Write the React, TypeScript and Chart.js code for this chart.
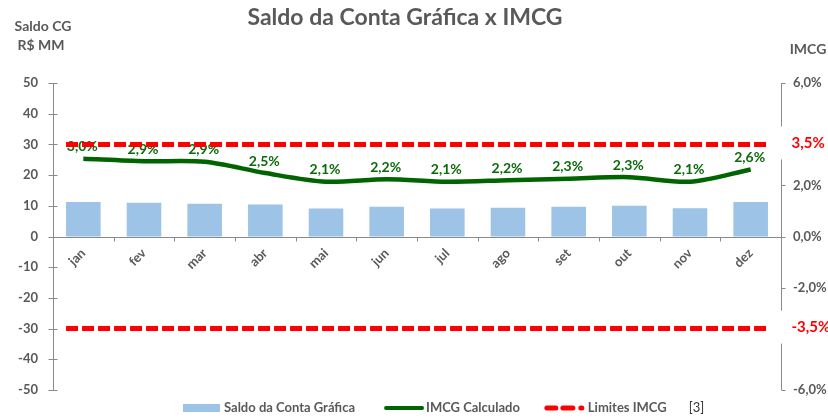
import { useEffect, useRef } from 'react';
import { Chart, registerables } from 'chart.js';

Chart.register(...registerables);

const months = ['jan', 'fev', 'mar', 'abr', 'mai', 'jun', 'jul', 'ago', 'set', 'out', 'nov', 'dez'];
const saldoContaGrafica = [11.2, 11.0, 10.7, 10.4, 9.1, 9.7, 9.1, 9.4, 9.7, 10.0, 9.2, 11.2];
const imcgCalculado = [3.04, 2.94, 2.92, 2.48, 2.14, 2.24, 2.14, 2.2, 2.26, 2.32, 2.14, 2.62];
// limits as labelled (IMCG %) and where the limit line sits on the primary (R$ MM) axis
const limitesIMCG = [3.5, -3.5];
const limitesEixoSaldo = [30, -30];
const leftAxisRange = [-50, 50];
const rightAxisRange = [-6, 6];

const FONT = 'Lato, "Open Sans", sans-serif';
const GRAY = '#595959';
const AXIS = '#8a8a8a';
const BAR = '#9DC3E6';
const GREEN = '#006400';
const RED = '#FF0000';

const fmtPct = (v: number) => v.toFixed(1).replace('.', ',') + '%';

export default function App() {
  const ref = useRef<HTMLCanvasElement>(null);

  useEffect(() => {
    if (!ref.current) return;

    const custom = {
      id: 'custom',
      afterDatasetsDraw(chart: any) {
        const ctx = chart.ctx;
        const ys = chart.scales.y;
        // data labels
        const meta = chart.getDatasetMeta(1);
        ctx.save();
        ctx.font = `bold 14px ${FONT}`;
        ctx.fillStyle = '#0B6B0B';
        ctx.textAlign = 'center';
        ctx.textBaseline = 'middle';
        meta.data.forEach((pt: any, i: number) => {
          ctx.fillText(fmtPct(imcgCalculado[i]), pt.x - 1, pt.y - 12);
        });
        ctx.restore();
        // limit lines
        const barMeta = chart.getDatasetMeta(0);
        const b0: any = barMeta.data[0];
        const bN: any = barMeta.data[barMeta.data.length - 1];
        const xStart = b0.x - b0.width / 2;
        const xEnd = bN.x + bN.width / 2;
        ctx.save();
        ctx.strokeStyle = RED;
        ctx.lineWidth = 5;
        ctx.setLineDash([12, 4]);
        limitesEixoSaldo.forEach((v) => {
          const yy = ys.getPixelForValue(v);
          ctx.beginPath();
          ctx.moveTo(xStart, yy);
          ctx.lineTo(xEnd, yy);
          ctx.stroke();
        });
        ctx.restore();
      },
      afterDraw(chart: any) {
        const ctx = chart.ctx;
        const { left, right, top, bottom } = chart.chartArea;
        const ys = chart.scales.y;
        const y1 = chart.scales.y1;
        ctx.save();
        ctx.strokeStyle = AXIS;
        ctx.lineWidth = 1;
        // left axis
        const lx = Math.round(left) + 0.5;
        ctx.beginPath();
        ctx.moveTo(lx, top);
        ctx.lineTo(lx, bottom);
        ys.ticks.forEach((t: any) => {
          const yy = Math.round(ys.getPixelForValue(t.value)) + 0.5;
          ctx.moveTo(lx - 5, yy);
          ctx.lineTo(lx + 4, yy);
        });
        ctx.stroke();
        // x axis at zero
        const zy = Math.round(ys.getPixelForValue(0)) + 0.5;
        ctx.beginPath();
        ctx.moveTo(left, zy);
        ctx.lineTo(right, zy);
        const n = months.length;
        for (let i = 0; i <= n; i++) {
          const px = Math.round(left + ((right - left) * i) / n) + 0.5;
          ctx.moveTo(px, zy);
          ctx.lineTo(px, zy + 4);
        }
        ctx.stroke();
        // right axis with gaps around limit labels
        const rx = Math.round(right) + 0.5;
        const labelYs = limitesEixoSaldo.map((v) => ys.getPixelForValue(v) - 1);
        const gaps = labelYs.map((yy) => [yy - 17, yy + 16]).sort((a, b) => a[0] - b[0]);
        ctx.beginPath();
        let cur = top;
        gaps.forEach(([g0, g1]) => {
          ctx.moveTo(rx, cur);
          ctx.lineTo(rx, g0);
          cur = g1;
        });
        ctx.moveTo(rx, cur);
        ctx.lineTo(rx, bottom);
        y1.ticks.forEach((t: any) => {
          const yy = Math.round(y1.getPixelForValue(t.value)) + 0.5;
          if (gaps.some(([g0, g1]) => yy > g0 && yy < g1)) return;
          ctx.moveTo(rx, yy);
          ctx.lineTo(rx + 4, yy);
        });
        ctx.stroke();
        ctx.restore();

        // red limit labels
        ctx.save();
        ctx.font = `bold 15px ${FONT}`;
        ctx.fillStyle = RED;
        ctx.textAlign = 'left';
        ctx.textBaseline = 'middle';
        limitesIMCG.forEach((v, i) => {
          ctx.fillText(fmtPct(v), rx + 10, labelYs[i]);
        });
        ctx.restore();

        // titles
        ctx.save();
        ctx.fillStyle = GRAY;
        ctx.textAlign = 'center';
        ctx.textBaseline = 'middle';
        ctx.font = `bold 23px ${FONT}`;
        ctx.fillText('Saldo da Conta Gráfica x IMCG', 405, 18);
        ctx.font = `bold 14px ${FONT}`;
        ctx.fillText('Saldo CG', 43, 26);
        ctx.fillText('R$ MM', 41, 45);
        ctx.fillText('IMCG', 808, 49);
        ctx.restore();

        // legend
        ctx.save();
        ctx.font = `bold 13px ${FONT}`;
        ctx.textBaseline = 'middle';
        ctx.textAlign = 'left';
        const ly = 408;
        const t1 = 'Saldo da Conta Gráfica';
        const t2 = 'IMCG Calculado';
        const t3 = 'Limites IMCG';
        const w1 = ctx.measureText(t1).width;
        const w2 = ctx.measureText(t2).width;
        const w3 = ctx.measureText(t3).width;
        let x = 183;
        ctx.fillStyle = BAR;
        ctx.fillRect(x, ly - 4, 37, 8);
        x += 41;
        ctx.fillStyle = GRAY;
        ctx.fillText(t1, x, ly);
        x += w1 + 29;
        ctx.strokeStyle = GREEN;
        ctx.lineWidth = 4;
        ctx.lineCap = 'round';
        ctx.beginPath();
        ctx.moveTo(x + 2, ly);
        ctx.lineTo(x + 38, ly);
        ctx.stroke();
        x += 42;
        ctx.fillText(t2, x, ly);
        x += w2 + 25;
        ctx.strokeStyle = RED;
        ctx.lineWidth = 5;
        ctx.lineCap = 'round';
        ctx.beginPath();
        ctx.moveTo(x + 2, ly); ctx.lineTo(x + 11, ly);
        ctx.moveTo(x + 18, ly); ctx.lineTo(x + 28, ly);
        ctx.moveTo(x + 36, ly); ctx.lineTo(x + 37, ly);
        ctx.stroke();
        x += 43;
        ctx.fillStyle = GRAY;
        ctx.fillText(t3, x, ly);
        x += w3 + 22;
        ctx.font = `13px ${FONT}`;
        ctx.fillStyle = '#333';
        ctx.fillText('[3]', x, ly);
        ctx.restore();
      },
    };

    const chart = new Chart(ref.current, {
      type: 'bar',
      data: {
        labels: months,
        datasets: [
          {
            type: 'bar',
            label: 'Saldo da Conta Gráfica',
            data: saldoContaGrafica,
            backgroundColor: BAR,
            yAxisID: 'y',
            barPercentage: 0.57,
            categoryPercentage: 1,
            order: 2,
          },
          {
            type: 'line',
            label: 'IMCG Calculado',
            data: imcgCalculado,
            borderColor: GREEN,
            borderWidth: 4.5,
            pointRadius: 0,
            tension: 0.3,
            yAxisID: 'y1',
            order: 1,
          } as any,
        ],
      },
      options: {
        animation: false,
        responsive: true,
        maintainAspectRatio: false,
        layout: { padding: { top: 83, bottom: 29, left: 0, right: 0 } },
        plugins: { legend: { display: false }, tooltip: { enabled: false }, title: { display: false } },
        scales: {
          x: {
            type: 'category',
            position: { y: 0 } as any,
            offset: true,
            grid: { display: false, drawTicks: false },
            border: { display: false },
            ticks: {
              maxRotation: 45,
              minRotation: 45,
              color: GRAY,
              padding: 9,
              font: { family: FONT, size: 13, weight: 'bold' },
            },
          },
          y: {
            position: 'left',
            min: leftAxisRange[0],
            max: leftAxisRange[1],
            grid: { display: false, drawTicks: false },
            border: { display: false },
            ticks: {
              stepSize: 10,
              padding: 15,
              color: GRAY,
              font: { family: FONT, size: 13, weight: 'bold' },
            },
            afterFit: (s: any) => { s.width = 53; },
          },
          y1: {
            position: 'right',
            min: rightAxisRange[0],
            max: rightAxisRange[1],
            grid: { display: false, drawTicks: false },
            border: { display: false },
            ticks: {
              stepSize: 2,
              padding: 12,
              color: GRAY,
              font: { family: FONT, size: 13, weight: 'bold' },
              callback: (v: any) => (Math.abs(Math.abs(v) - 4) < 1e-9 ? '' : fmtPct(Number(v))),
            },
            afterFit: (s: any) => { s.width = 47; },
          },
        },
      },
      plugins: [custom],
    });
    return () => chart.destroy();
  }, []);

  return (
    <div style={{ position: 'fixed', left: 0, top: 0, width: 828, height: 419, background: '#fff' }}>
      <canvas ref={ref} />
    </div>
  );
}
